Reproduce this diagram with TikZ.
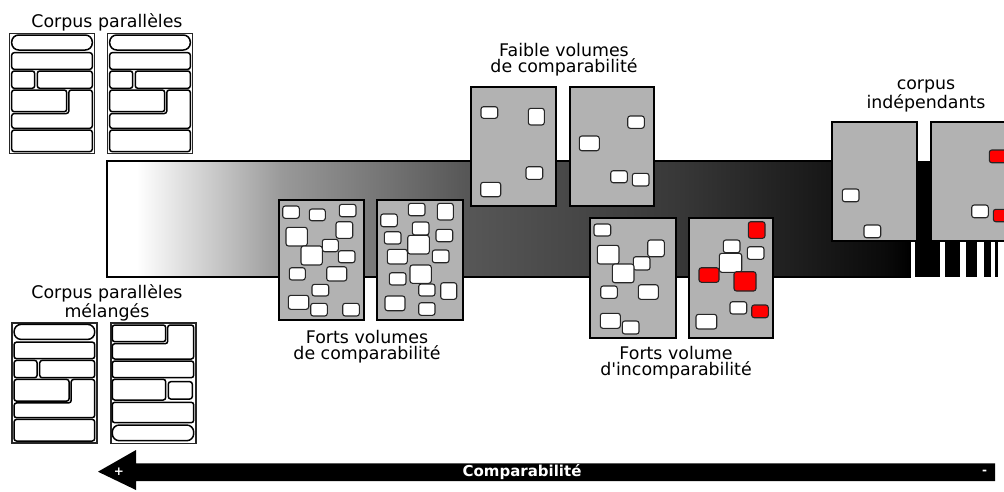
\documentclass[tikz,border=0pt]{standalone}
\usepackage{fontspec}
\setmainfont{DejaVu Sans}[Ligatures=TeXOff]

\pgfdeclarehorizontalshading{comparshade}{100bp}{color(0bp)=(white); color(26.85bp)=(white); color(35.9bp)=(black!40); color(47.4bp)=(black!66); color(60.5bp)=(black!78); color(73.5bp)=(black!96); color(75bp)=(black); color(100bp)=(black)}

\tikzset{
	doc/.style={draw=black!85, line width=1.6pt, fill=white},
	blk/.style={draw=black, line width=1.5pt, fill=white, rounded corners=2.5pt},
	pill/.style={blk, rounded corners=7pt},
	page/.style={draw=black, line width=1.2pt, fill=black!30},
	cell/.style={draw=black!85, line width=1.1pt, fill=white, rounded corners=2.5pt},
	redcell/.style={cell, fill=red},
	lbl/.style={font=\fontsize{17.4}{16}\selectfont, align=center, inner sep=0pt},
	arrowlbl/.style={font=\bfseries\fontsize{15}{16}\selectfont, text=white, inner sep=0pt}
}

\begin{document}
\begin{tikzpicture}[x=1pt,y=-1pt]
\useasboundingbox (0,0) rectangle (1004,491);

%----------------------------
% Gradient bar
%----------------------------
\shade[shading=comparshade, draw=black, line width=1.6pt] (107,161) rectangle (910,277);
\fill[black] (910,161) rectangle (1004,241);
% stripes on the right
\foreach \xa/\xb in {915/940,945/960,966/977,984/991,995/998}
	\fill[black] (\xa,241) rectangle (\xb,277);

%----------------------------
% Left: parallel documents
%----------------------------
\foreach \dx/\dy in {9.3/33.3, 107.3/33.3, 11.7/322.7}{
\begin{scope}[shift={(\dx,\dy)}]
	\draw[doc] (0,0) rectangle (85.3,120);
	\draw[pill] (2.4,1.7) rectangle (83,16.7);
	\draw[blk] (2.4,19.4) rectangle (83,36);
	\draw[blk] (2.4,37.7) rectangle (25.4,55);
	\draw[blk] (28,37.7) rectangle (83,55);
	\draw[blk] (2.4,56.7) rectangle (57.4,78.4);
	\draw[blk] (59.5,56.7) -- (83,56.7) -- (83,95) -- (2.4,95) -- (2.4,80.2) -- (59.5,80.2) -- cycle;
	\draw[blk] (2.4,96.7) rectangle (83,118.3);
\end{scope}
}

% mixed document
\begin{scope}[shift={(110.7,322.7)}]
	\draw[doc] (0,0) rectangle (85,120.6);
	\draw[blk] (1.6,2.3) rectangle (55,19);
	\draw[blk] (57,2.3) -- (83,2.3) -- (83,36.3) -- (1.6,36.3) -- (1.6,21) -- (57,21) -- cycle;
	\draw[blk] (1.6,38.3) rectangle (83,55);
	\draw[blk] (1.6,56.6) rectangle (55,77.3);
	\draw[blk] (57.6,59) rectangle (81.6,76.3);
	\draw[blk] (1.6,79.6) rectangle (83,100);
	\draw[pill] (1.6,102.3) rectangle (83,118);
\end{scope}

\node[lbl] (parall) at (107,22) {Corpus parallèles};
\node[lbl] (melange) at (107,303) {Corpus parallèles\\mélangés};

%----------------------------
% Forts volumes de comparabilite
%----------------------------
\draw[page] (279,200) rectangle (364,320);
\draw[page] (377,200) rectangle (463,320);
\foreach \xa/\ya/\xb/\yb in {282.7/206/299.3/218.3, 309.3/209/325.3/220.7, 339.3/204.3/356/216.7, 286/227.3/307.3/246, 336/221.7/352.7/238.3, 322.3/239.3/338.3/251.7, 301/246/322.3/265, 338.3/250.7/355/262.7, 289.3/267.7/305.3/280, 326.7/266.7/346.7/281, 312/284.3/328.7/296, 288.3/295.3/308.7/309.3, 310.7/303.3/327.3/316, 342.7/303.3/359.3/316,
	380.7/214/397.3/226.7, 408.3/203.3/425/215.7, 437.3/203.3/453.3/220, 412.3/222/429/235, 436/229.3/452.7/241.7, 384.3/231.7/401/244, 407.7/235.3/429.3/254, 387.3/249.3/407.3/264, 432.3/250/449/262.7, 410/265/431.3/283.3, 389.3/272.7/406/285, 440.7/282.7/456.7/299.3, 418.7/284/435/296, 385/296/405/310.7, 418.7/302.7/435/315.3}
	\draw[cell] (\xa,\ya) rectangle (\xb,\yb);
\node[lbl] (fortcomp) at (367,347) {Forts volumes\\de comparabilité};

%----------------------------
% Faible volumes de comparabilite
%----------------------------
\draw[page] (471,87) rectangle (556,206);
\draw[page] (570,87) rectangle (654,206);
\foreach \xa/\ya/\xb/\yb in {481/106.7/497.7/118.3, 528.3/108.3/544.3/125, 526/166.7/542.7/179.3, 480.7/182.3/500.7/196.7,
	627.7/116/644.3/128.3, 579.3/136/599.3/150.7, 610.7/170.7/627.3/182.7, 632.3/173.3/649/186}
	\draw[cell] (\xa,\ya) rectangle (\xb,\yb);
\node[lbl] (faiblecomp) at (564,60) {Faible volumes\\de comparabilité};

%----------------------------
% Forts volume d'incomparabilite
%----------------------------
\draw[page] (590,218) rectangle (676,338);
\draw[page] (689,218) rectangle (773,338);
\foreach \xa/\ya/\xb/\yb in {594/224/610.7/236, 597.3/245.3/619/264, 647.7/240/664.3/256.7, 633.3/256.7/650/270, 612.3/264/634/282.7, 600.7/286/617.3/298.3, 638.3/284.7/658.3/299.3, 600.3/313.3/620.3/328.3, 622.3/321/639/334,
	723.3/240/740/252.7, 747.3/246.7/764/259.3, 719.3/253.3/741.7/272.3, 730/301.7/746.7/314, 696/314.3/716.7/329}
	\draw[cell] (\xa,\ya) rectangle (\xb,\yb);
\foreach \xa/\ya/\xb/\yb in {748.3/221.7/765/238.3, 699/267.7/719/282.3, 734/271.7/756/291, 751.7/305/768.3/317.7}
	\draw[redcell] (\xa,\ya) rectangle (\xb,\yb);
\node[lbl] (fortincomp) at (676,363) {Forts volume\\d'incomparabilité};

%----------------------------
% Right: corpus independants
%----------------------------
\draw[page] (832,122) rectangle (917,241);
\draw[page] (931,122) rectangle (1017,241);
\foreach \xa/\ya/\xb/\yb in {842.3/189/859/201.7, 864/225/880.7/237.7, 971.7/205/988.3/217.7}
	\draw[cell] (\xa,\ya) rectangle (\xb,\yb);
\foreach \xa/\ya/\xb/\yb in {989.3/150/1012/162.7, 993.3/209.3/1014/221.7}
	\draw[redcell] (\xa,\ya) rectangle (\xb,\yb);
\node[lbl] (indep) at (926,96) {corpus\\indépendants};

%----------------------------
% Arrow: comparabilite
%----------------------------
\fill[black] (995,463.3) -- (136,463.3) -- (136,450) -- (98,471.7) -- (136,490) -- (136,481) -- (995,481) -- cycle;
\node[arrowlbl] (compar) at (522,472) {Comparabilité};
\node[arrowlbl, font=\bfseries\fontsize{12}{12}\selectfont] (plus) at (119,472) {+};
\node[arrowlbl, font=\bfseries\fontsize{12}{12}\selectfont] (moins) at (984.5,472.5) {-};

\end{tikzpicture}
\end{document}
